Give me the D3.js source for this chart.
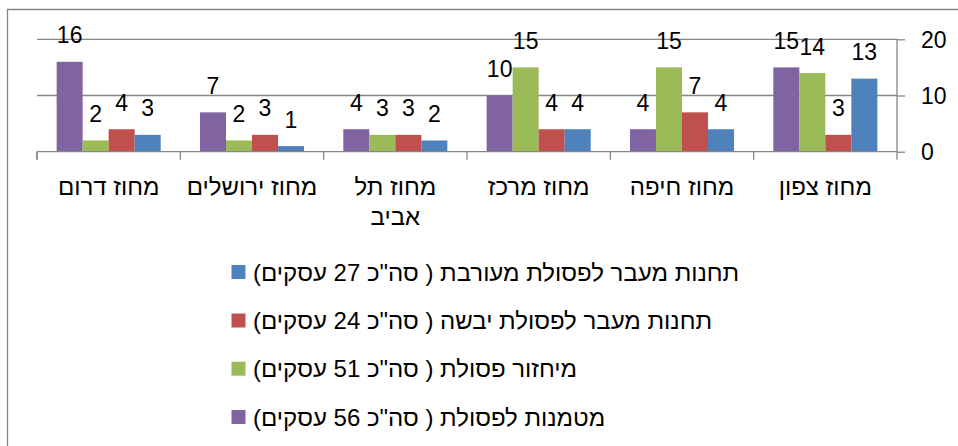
<!DOCTYPE html>
<html><head><meta charset="utf-8">
<script src="https://cdn.jsdelivr.net/npm/d3@7"></script>
<style>
html,body{margin:0;padding:0;background:#fff;}
svg{display:block;font-family:"Liberation Sans",Arial,sans-serif;}
</style></head>
<body>
<svg id="chart" width="958" height="446"></svg>
<script>
const categories = ["מחוז צפון","מחוז חיפה","מחוז מרכז","מחוז תל אביב","מחוז ירושלים","מחוז דרום"];
const seriesNames = [
  "מטמנות לפסולת ( סה\"כ 56 עסקים)",
  "מיחזור פסולת ( סה\"כ 51 עסקים)",
  "תחנות מעבר לפסולת יבשה ( סה\"כ 24 עסקים)",
  "תחנות מעבר לפסולת מעורבת ( סה\"כ 27 עסקים)"
];
const landfill = [15,4,10,4,7,16];
const recycling = [14,15,15,3,2,2];
const dryTransfer = [3,7,4,3,3,4];
const mixedTransfer = [13,4,4,2,1,3];
const seriesColors = ["#8064A2","#9BBB59","#C0504D","#4F81BD"];
const yTicks = [0,10,20];

const seriesValues = [landfill, recycling, dryTransfer, mixedTransfer];
const series = seriesNames.map((n,i)=>({name:n,color:seriesColors[i],values:seriesValues[i]}));

const svg = d3.select("#chart");
const gray = "#868686";
const pLeft = 37, pRight = 897, pTop = 39.3, pBottom = 151.7;
const numSize = 23, hebSize = 24;

const x0 = d3.scaleBand().domain(categories).range([pRight,pLeft]).padding(0);
const x1 = d3.scaleBand().domain(seriesNames).range([0,x0.bandwidth()]).paddingInner(0).paddingOuter(0.755);
const y = d3.scaleLinear().domain([0,20]).range([pBottom,pTop]);

// frame
svg.append("path").attr("d",`M7.5,446 V9.5 H958`).attr("fill","none").attr("stroke",gray).attr("stroke-width",1.3);

// gridlines
svg.append("g").selectAll("line").data(yTicks.filter(d=>d>0)).join("line")
  .attr("x1",pLeft).attr("x2",pRight).attr("y1",d=>y(d)).attr("y2",d=>y(d))
  .attr("stroke",gray).attr("stroke-width",1.3);

// right axis
const yAxis = d3.axisRight(y).tickValues(yTicks).tickSize(8).tickPadding(16).tickFormat(d3.format("d"));
const gy = svg.append("g").attr("transform",`translate(${pRight},0)`).call(yAxis);
gy.select(".domain").attr("stroke",gray).attr("stroke-width",1.3).attr("d",`M0,${pTop}V${pBottom+8}`);
gy.selectAll(".tick line").attr("stroke",gray).attr("stroke-width",1.3);
gy.selectAll(".tick text").attr("font-size",numSize).attr("fill","#000").attr("font-family","Liberation Sans, Arial, sans-serif").attr("dy","0.36em");

// bars
const groups = svg.append("g").selectAll("g").data(categories).join("g")
  .attr("transform",d=>`translate(${x0(d)},0)`);
groups.selectAll("rect").data((c,ci)=>series.map(s=>({s,v:s.values[ci]}))).join("rect")
  .attr("x",d=>x1(d.s.name)).attr("width",x1.bandwidth())
  .attr("y",d=>y(d.v)).attr("height",d=>y(0)-y(d.v))
  .attr("fill",d=>d.s.color);
groups.selectAll("text").data((c,ci)=>series.map(s=>({s,v:s.values[ci]}))).join("text")
  .attr("x",d=>x1(d.s.name)+x1.bandwidth()/2).attr("y",d=>y(d.v)-18.5)
  .attr("text-anchor","middle").attr("font-size",numSize).attr("fill","#000").text(d=>d.v);

// x axis
const xAxisG = svg.append("g");
xAxisG.append("line").attr("x1",pLeft).attr("x2",pRight).attr("y1",pBottom).attr("y2",pBottom).attr("stroke",gray).attr("stroke-width",1.3);
const boundaries = categories.map(c=>x0(c)).concat([pLeft]);
xAxisG.selectAll("line.tk").data(boundaries).join("line").attr("class","tk")
  .attr("x1",d=>d).attr("x2",d=>d).attr("y1",pBottom).attr("y2",pBottom+8).attr("stroke",gray).attr("stroke-width",1.3);

// category labels with wrapping
const maxW = 131;
categories.forEach(c=>{
  const cx = x0(c)+x0.bandwidth()/2;
  const t = svg.append("text").attr("x",cx).attr("y",195).attr("text-anchor","middle")
    .attr("direction","rtl").attr("font-size",hebSize).attr("fill","#000");
  const words = c.split(" ");
  let line = [], lines = [];
  const probe = t.append("tspan");
  words.forEach(w=>{
    const test = line.concat([w]).join(" ");
    probe.text(test);
    if (probe.node().getComputedTextLength() > maxW && line.length) { lines.push(line.join(" ")); line=[w]; }
    else line.push(w);
  });
  lines.push(line.join(" "));
  probe.remove();
  lines.forEach((l,i)=>t.append("tspan").attr("x",cx).attr("y",195+i*29.5).text(l));
});

// legend
const legendY = [272,320.5,368.7,417];
const legendOrder = series.slice().reverse();
legendOrder.forEach((s,i)=>{
  svg.append("rect").attr("x",231.5).attr("y",legendY[i]-7).attr("width",14).attr("height",14).attr("fill",s.color);
  svg.append("text").attr("x",253).attr("y",legendY[i]).attr("dy","0.36em")
    .attr("direction","rtl").attr("text-anchor","end").attr("font-size",hebSize).attr("fill","#000").text(s.name);
});
</script>
</body></html>
